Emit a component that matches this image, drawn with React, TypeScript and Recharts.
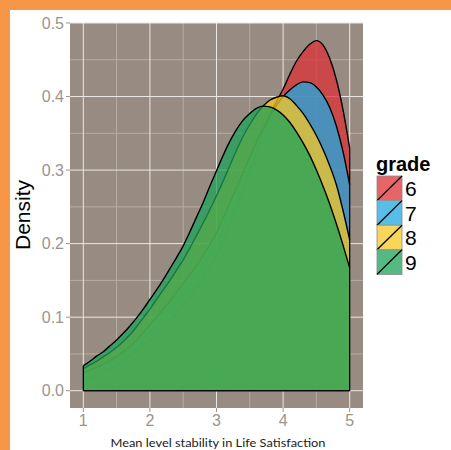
import { Area, AreaChart, CartesianGrid, ReferenceLine, XAxis, YAxis } from "recharts";

// x grid of the density estimate (Mean level stability in Life Satisfaction)
const xs = [
  1.0, 1.1, 1.2, 1.3, 1.4, 1.5, 1.6, 1.7, 1.8, 1.9, 2.0, 2.1, 2.2, 2.3, 2.4, 2.5, 2.6, 2.7, 2.8, 2.9, 3.0,
  3.1, 3.2, 3.3, 3.4, 3.5, 3.6, 3.7, 3.8, 3.9, 4.0, 4.1, 4.2, 4.3, 4.4, 4.5, 4.6, 4.7, 4.8, 4.9, 5.0,
];

const grade6 = [
  0.0145, 0.018, 0.022, 0.026, 0.03, 0.035, 0.041, 0.047, 0.053, 0.061, 0.069, 0.078, 0.087, 0.096, 0.106,
  0.117, 0.128, 0.14, 0.153, 0.168, 0.185, 0.204, 0.226, 0.25, 0.275, 0.3, 0.325, 0.35, 0.374, 0.393, 0.41,
  0.43, 0.448, 0.461, 0.471, 0.476, 0.47, 0.452, 0.423, 0.382, 0.33,
];
const grade7 = [
  0.0245, 0.028, 0.032, 0.036, 0.041, 0.046, 0.053, 0.06, 0.069, 0.079, 0.09, 0.1, 0.111, 0.122, 0.134,
  0.146, 0.158, 0.17, 0.184, 0.199, 0.215, 0.235, 0.255, 0.276, 0.297, 0.318, 0.338, 0.356, 0.373, 0.388,
  0.4, 0.409, 0.416, 0.42, 0.419, 0.413, 0.402, 0.385, 0.36, 0.325, 0.28,
];
const grade8 = [
  0.03, 0.035, 0.04, 0.046, 0.052, 0.059, 0.067, 0.076, 0.087, 0.099, 0.111, 0.124, 0.137, 0.15, 0.164,
  0.178, 0.194, 0.211, 0.228, 0.246, 0.265, 0.285, 0.306, 0.327, 0.346, 0.362, 0.376, 0.387, 0.395, 0.399,
  0.401, 0.397, 0.388, 0.377, 0.363, 0.347, 0.328, 0.306, 0.28, 0.245, 0.205,
];
const grade9 = [
  0.034, 0.04, 0.047, 0.053, 0.061, 0.069, 0.078, 0.088, 0.099, 0.111, 0.124, 0.137, 0.151, 0.166, 0.181,
  0.197, 0.216, 0.236, 0.256, 0.278, 0.299, 0.32, 0.339, 0.355, 0.368, 0.377, 0.384, 0.387, 0.386, 0.382,
  0.375, 0.365, 0.352, 0.337, 0.32, 0.3, 0.278, 0.254, 0.227, 0.198, 0.167,
];

const grades = ["6", "7", "8", "9"];
const series = [grade6, grade7, grade8, grade9];
const fills = ["#dc3237", "#20a8e0", "#f5c823", "#1ea258"];

const xTicks = [1, 2, 3, 4, 5];
const xMinor = [1.5, 2.5, 3.5, 4.5];
const yTicks = [0, 0.1, 0.2, 0.3, 0.4, 0.5];
const yMinor = [0.05, 0.15, 0.25, 0.35, 0.45];

const data = xs.map((x, i) => {
  const row: Record<string, number> = { x };
  grades.forEach((g, k) => (row["g" + g] = series[k][i]));
  return row;
});

const xFirst = xs[0];
const xLast = xs[xs.length - 1];
const leftTop = Math.max(...series.map((s) => s[0]));
const rightTop = Math.max(...series.map((s) => s[s.length - 1]));

const tickColor = "#9c938c";
const font = "'Liberation Sans', Arial, sans-serif";

export default function App() {
  return (
    <div style={{ position: "absolute", left: 0, top: 0, width: 451, height: 450, background: "#fff" }}>
      <div style={{ position: "absolute", left: 0, top: 0, width: 451, height: 10, background: "#f79646" }} />
      <div style={{ position: "absolute", left: 0, top: 0, width: 10, height: 450, background: "#f79646" }} />
      <div style={{ position: "absolute", left: 0, top: 0 }}>
        <AreaChart width={451} height={450} data={data} margin={{ top: 23, right: 88, bottom: 0, left: 0 }}>
          <CartesianGrid fill="#978b82" stroke="#b6ada6" verticalValues={xMinor} horizontalValues={yMinor} />
          <CartesianGrid stroke="#ece8e4" verticalValues={xTicks} horizontalValues={yTicks} />
          <XAxis
            dataKey="x"
            type="number"
            domain={[0.8, 5.2]}
            ticks={xTicks}
            allowDataOverflow
            height={42}
            axisLine={false}
            tickSize={4}
            tickMargin={3}
            tickLine={{ stroke: tickColor }}
            tick={{ fill: tickColor, fontSize: 16, fontFamily: font }}
          />
          <YAxis
            type="number"
            domain={[-0.0235, 0.5]}
            ticks={yTicks}
            allowDataOverflow
            width={70}
            axisLine={false}
            tickSize={4}
            tickMargin={2}
            tickLine={{ stroke: tickColor }}
            tick={{ fill: tickColor, fontSize: 16, fontFamily: font }}
            tickFormatter={(v: number) => v.toFixed(1)}
          />
          {grades.map((g, i) => (
            <Area
              key={g}
              dataKey={"g" + g}
              type="monotone"
              baseValue={0}
              stroke="#000"
              strokeWidth={1.4}
              fill={fills[i]}
              fillOpacity={0.75}
              dot={false}
              activeDot={false}
              isAnimationActive={false}
            />
          ))}
          <ReferenceLine segment={[{ x: xFirst, y: 0 }, { x: xLast, y: 0 }]} stroke="#000" strokeWidth={1.4} />
          <ReferenceLine segment={[{ x: xFirst, y: 0 }, { x: xFirst, y: leftTop }]} stroke="#000" strokeWidth={1.4} />
          <ReferenceLine segment={[{ x: xLast, y: 0 }, { x: xLast, y: rightTop }]} stroke="#000" strokeWidth={1.4} />
        </AreaChart>
      </div>
      <svg width={451} height={450} style={{ position: "absolute", left: 0, top: 0, pointerEvents: "none" }}>
        <text
          transform="translate(30,215) rotate(-90)"
          textAnchor="middle"
          fontSize={21}
          fontFamily={font}
          fill="#000"
        >
          Density
        </text>
        <text
          x={218}
          y={447}
          textAnchor="middle"
          fontSize={12}
          fontFamily="Lato, 'Open Sans', sans-serif"
          textLength={215}
          lengthAdjust="spacingAndGlyphs"
          fill="#222"
        >
          Mean level stability in Life Satisfaction
        </text>
        <text x={376} y={171} fontSize={20} fontWeight="bold" fontFamily={font} fill="#000">
          grade
        </text>
        {grades.map((g, i) => {
          const top = 176 + i * 24.6;
          return (
            <g key={g}>
              <rect x={377} y={top} width={25} height={24.6} fill="#fff" />
              <rect x={377} y={top} width={25} height={24.6} fill={fills[i]} fillOpacity={0.75} stroke="#8a8a8a" strokeWidth={0.8} />
              <line x1={377} y1={top + 24.6} x2={402} y2={top} stroke="#000" strokeWidth={1.3} />
              <text x={405} y={top + 20} fontSize={21} fontFamily={font} fill="#000">
                {g}
              </text>
            </g>
          );
        })}
      </svg>
    </div>
  );
}
